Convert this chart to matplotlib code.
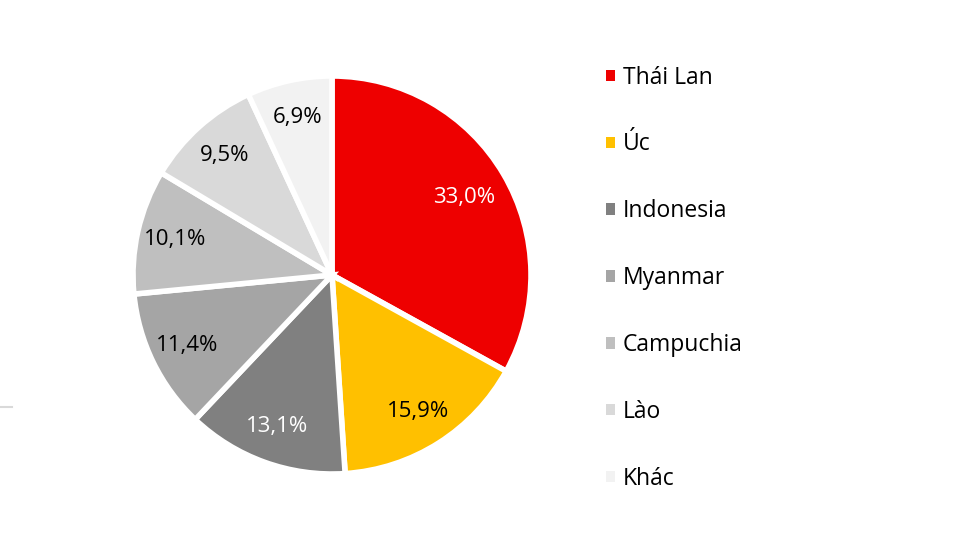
import matplotlib
matplotlib.use("Agg")
import matplotlib.pyplot as plt
from matplotlib.patches import Patch
from matplotlib.lines import Line2D
import numpy as np

plt.rcParams['font.family'] = ['Open Sans', 'DejaVu Sans']

categories = ["Thái Lan", "Úc", "Indonesia", "Myanmar", "Campuchia", "Lào", "Khác"]
values = [33.0, 15.9, 13.1, 11.4, 10.1, 9.5, 6.9]
colors = ["#EE0000", "#FFC000", "#808080", "#A5A5A5", "#BFBFBF", "#D9D9D9", "#F2F2F2"]
text_colors = ["white", "black", "white", "black", "black", "black", "black"]

W, H = 963, 535
fig = plt.figure(figsize=(W / 100, H / 100), dpi=100)
cx, cy, r = 332, 275, 199
ax = fig.add_axes([(cx - r) / W, (H - cy - r) / H, 2 * r / W, 2 * r / H])

wedges, texts = ax.pie(values, colors=colors, startangle=90, counterclock=False,
                       wedgeprops=dict(edgecolor="white", linewidth=4))
total = sum(values)
ang = 90.0
for v, tc in zip(values, text_colors):
    mid = ang - v / total * 360 / 2
    ang -= v / total * 360
    d = 0.77 if v > 20 else 0.81
    x = d * np.cos(np.radians(mid))
    y = d * np.sin(np.radians(mid))
    ax.text(x, y, f"{v:.1f}%".replace(".", ","), ha="center", va="center",
            fontsize=16, color=tc)
ax.set_aspect("equal")
ax.set_xlim(-1, 1)
ax.set_ylim(-1, 1)
ax.axis("off")

handles = [Patch(facecolor=c, edgecolor="none") for c in colors]
fig.legend(handles, categories, loc="upper left", bbox_to_anchor=(585 / W, 1 - 45 / H),
           frameon=False, fontsize=16.5, handlelength=0.4, handleheight=0.4,
           handletextpad=0.35, labelspacing=1.87)

fig.add_artist(Line2D([0, 12 / W], [1 - 407 / H, 1 - 407 / H], color="#D9D9D9", lw=1.5,
                      transform=fig.transFigure))

fig.savefig("out.png", dpi=100)
